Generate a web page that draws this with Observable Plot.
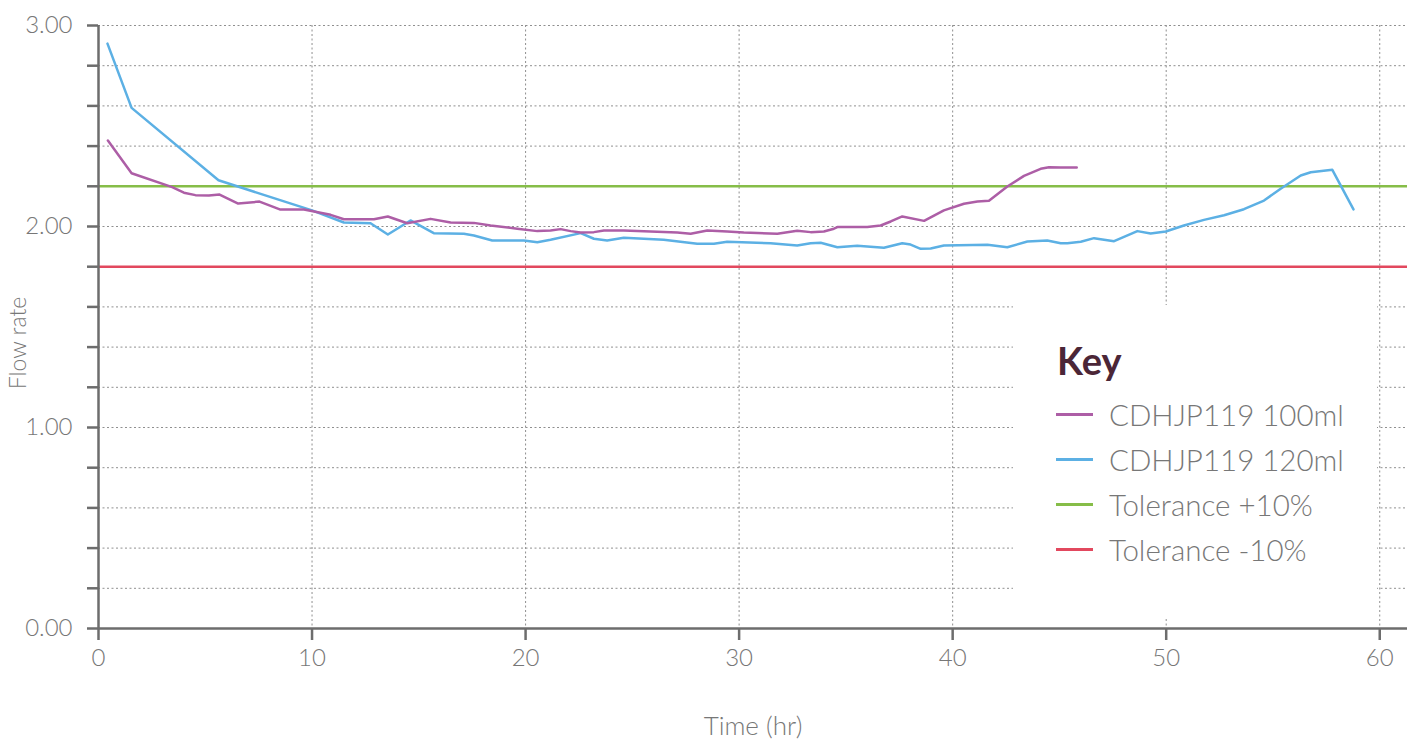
<!DOCTYPE html>
<html>
<head>
<meta charset="utf-8">
<script src="https://cdn.jsdelivr.net/npm/d3@7"></script>
<script src="https://cdn.jsdelivr.net/npm/@observablehq/plot@0.6"></script>
<style>
  html, body { margin: 0; padding: 0; background: #fff; }
  #wrap { position: relative; width: 1421px; height: 744px; font-family: Lato, "Open Sans", sans-serif; }
  #legend { position: absolute; left: 1013px; top: 305px; width: 364px; height: 312px; background: #fff; }
  #legend .key { position: absolute; left: 44px; top: 36px; font-size: 38px; font-weight: 700; color: #4b2637; line-height: 1; }
  #legend .item { position: absolute; left: 43px; height: 40px; display: flex; align-items: center; }
  #legend .sw { width: 37px; height: 3px; margin-right: 16px; }
  #legend .lab { font-size: 29.5px; font-weight: 300; color: #777; white-space: nowrap; }
</style>
</head>
<body>
<div id="wrap"></div>
<script>
// ---- data ----
const seriesNames = ["CDHJP119 100ml", "CDHJP119 120ml", "Tolerance +10%", "Tolerance -10%"];
const seriesColors = ["#ad5ea6", "#5cb0e4", "#86bd48", "#e2485e"];

const t100 = [0.44, 1.55, 3.45, 4.0, 4.54, 5.17, 5.67, 6.54, 7.54, 8.49, 9.62, 10.87, 11.49, 12.9, 13.55, 14.46, 15.55, 16.49, 17.58, 18.36, 19.61, 20.55, 21.17, 21.64, 22.11, 22.58, 23.2, 23.67, 24.6, 25.85, 27.1, 27.73, 28.51, 29.44, 30.22, 31.79, 32.72, 33.35, 33.97, 34.44, 34.6, 36.0, 36.63, 37.1, 37.64, 38.66, 39.59, 40.53, 41.16, 41.7, 42.56, 43.34, 44.12, 44.51, 45.06, 45.81];
const v100 = [2.428, 2.265, 2.196, 2.168, 2.156, 2.154, 2.159, 2.114, 2.124, 2.085, 2.085, 2.058, 2.036, 2.036, 2.05, 2.016, 2.038, 2.02, 2.018, 2.005, 1.989, 1.977, 1.98, 1.987, 1.977, 1.97, 1.972, 1.98, 1.98, 1.975, 1.97, 1.964, 1.98, 1.975, 1.97, 1.964, 1.979, 1.972, 1.975, 1.989, 1.997, 1.997, 2.005, 2.025, 2.05, 2.028, 2.08, 2.113, 2.124, 2.128, 2.199, 2.252, 2.287, 2.295, 2.294, 2.293];

const t120 = [0.42, 1.55, 5.62, 10.0, 11.49, 12.74, 13.55, 14.61, 15.7, 17.11, 17.58, 18.44, 19.92, 20.55, 21.17, 22.58, 23.2, 23.82, 24.6, 26.47, 28.04, 28.82, 29.44, 31.47, 32.72, 33.35, 33.82, 34.6, 35.53, 36.78, 37.64, 38.03, 38.5, 38.97, 39.59, 41.63, 42.56, 43.5, 44.43, 45.06, 45.37, 46.0, 46.62, 47.56, 48.65, 49.27, 49.98, 50.83, 51.77, 52.71, 53.64, 54.58, 55.36, 56.3, 56.77, 57.78, 58.77];
const v120 = [2.91, 2.59, 2.23, 2.08, 2.02, 2.016, 1.96, 2.03, 1.967, 1.964, 1.955, 1.93, 1.93, 1.922, 1.934, 1.967, 1.939, 1.93, 1.944, 1.934, 1.914, 1.914, 1.924, 1.917, 1.905, 1.917, 1.919, 1.897, 1.904, 1.894, 1.917, 1.91, 1.889, 1.891, 1.905, 1.909, 1.897, 1.925, 1.93, 1.917, 1.917, 1.924, 1.942, 1.927, 1.977, 1.965, 1.975, 2.005, 2.033, 2.056, 2.086, 2.129, 2.188, 2.254, 2.27, 2.282, 2.085];

const toleranceValues = [2.2, 1.8];
const xTicks = [0, 10, 20, 30, 40, 50, 60];
const yTicks = [0, 0.2, 0.4, 0.6, 0.8, 1.0, 1.2, 1.4, 1.6, 1.8, 2.0, 2.2, 2.4, 2.6, 2.8, 3.0];

// ---- build ----
const rows100 = t100.map((t, i) => ({t, v: v100[i]}));
const rows120 = t120.map((t, i) => ({t, v: v120[i]}));
const axisColor = "#6d6d6d";
const font = "Lato, 'Open Sans', sans-serif";

const chart = Plot.plot({
  width: 1421,
  height: 744,
  marginLeft: 98,
  marginRight: 14,
  marginTop: 25,
  marginBottom: 116,
  style: {fontFamily: font, background: "#fff"},
  x: {domain: [0, 61.3]},
  y: {domain: [0, 3]},
  marks: [
    Plot.gridY(yTicks.filter(d => d > 0), {stroke: "#8f8f8f", strokeOpacity: 1, strokeDasharray: "2,2.5", strokeWidth: 1}),
    Plot.gridX(xTicks.filter(d => d > 0), {stroke: "#8f8f8f", strokeOpacity: 1, strokeDasharray: "2,2.5", strokeWidth: 1}),
    Plot.ruleY([toleranceValues[0]], {stroke: seriesColors[2], strokeWidth: 2.5}),
    Plot.ruleY([toleranceValues[1]], {stroke: seriesColors[3], strokeWidth: 2.5}),
    Plot.line(rows120, {x: "t", y: "v", stroke: seriesColors[1], strokeWidth: 2.5}),
    Plot.line(rows100, {x: "t", y: "v", stroke: seriesColors[0], strokeWidth: 2.5}),
    Plot.axisY({ticks: yTicks, tickSize: 11, tickPadding: 15, stroke: axisColor, strokeWidth: 2.5,
      tickFormat: d => Math.abs(d - Math.round(d)) < 1e-9 ? d.toFixed(2) : "",
      fontSize: 24, fontWeight: 300, fill: "#777", label: null}),
    Plot.axisX({ticks: xTicks, tickSize: 12, tickPadding: 8, stroke: axisColor, strokeWidth: 2.5,
      tickFormat: d => String(d), fontSize: 24, fontWeight: 300, fill: "#777", label: null}),
    Plot.ruleX([0], {stroke: axisColor, strokeWidth: 2.5}),
    Plot.ruleY([0], {stroke: axisColor, strokeWidth: 2.5}),
    Plot.text(["Flow rate"], {frameAnchor: "left", textAnchor: "middle", rotate: -90, dx: -80, dy: 16, fontSize: 23, fontWeight: 300, fill: "#777", fontFamily: font}),
    Plot.text(["Time (hr)"], {frameAnchor: "bottom", textAnchor: "middle", dy: 106, fontSize: 26, fontWeight: 300, fill: "#777", fontFamily: font})
  ]
});

const wrap = document.getElementById("wrap");
wrap.appendChild(chart);

const legend = document.createElement("div");
legend.id = "legend";
const key = document.createElement("div");
key.className = "key";
key.textContent = "Key";
legend.appendChild(key);
const itemTops = [89, 134, 179, 224];
seriesNames.forEach((name, i) => {
  const it = document.createElement("div");
  it.className = "item";
  it.style.top = (itemTops[i]) + "px";
  const sw = document.createElement("span");
  sw.className = "sw";
  sw.style.background = seriesColors[i];
  const lab = document.createElement("span");
  lab.className = "lab";
  lab.textContent = name;
  it.appendChild(sw);
  it.appendChild(lab);
  legend.appendChild(it);
});
wrap.appendChild(legend);
</script>
</body>
</html>
